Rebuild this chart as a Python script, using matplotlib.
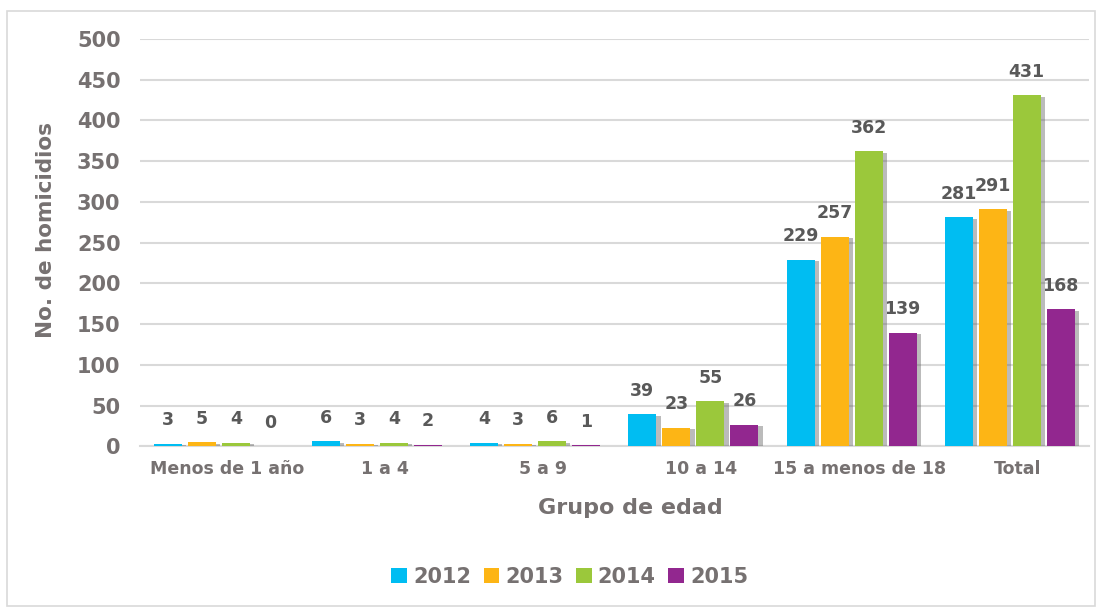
import numpy as np
import matplotlib
matplotlib.use("Agg")
import matplotlib.pyplot as plt
import matplotlib.patheffects as pe
from matplotlib.patches import Rectangle

grupos = ["Menos de 1 año", "1 a 4", "5 a 9", "10 a 14", "15 a menos de 18", "Total"]
anios = ["2012", "2013", "2014", "2015"]
v2012 = [3, 6, 4, 39, 229, 281]
v2013 = [5, 3, 3, 23, 257, 291]
v2014 = [4, 4, 6, 55, 362, 431]
v2015 = [0, 2, 1, 26, 139, 168]
colores = ["#00BDF2", "#FDB515", "#9BC83B", "#92278F"]

series = [v2012, v2013, v2014, v2015]
gris_txt = "#767171"
gris_lbl = "#595959"

plt.rcParams['font.family'] = ['DejaVu Sans']

fig = plt.figure(figsize=(11.02, 6.08), dpi=100)
ax = fig.add_axes([0.127, 0.266, 0.861, 0.670])

# marco del grafico
fig.patches.append(Rectangle((0.006, 0.004), 0.988, 0.978, transform=fig.transFigure,
                             fill=False, edgecolor="#d9d9d9", linewidth=1.2))

x = np.arange(len(grupos))
ancho = 0.177
paso = 0.215
sombra = [pe.SimplePatchShadow(offset=(3, -1), shadow_rgbFace="#555555", alpha=0.4), pe.Normal()]

for i, (vals, col, an) in enumerate(zip(series, colores, anios)):
    pos = x + (i - 1.5) * paso
    barras = ax.bar(pos, vals, width=ancho, color=col, label=an, zorder=3)
    for b in barras:
        b.set_path_effects(sombra)
    for p, v in zip(pos, vals):
        ax.annotate(str(v), (p, v), xytext=(0, 17), textcoords="offset points",
                    ha="center", va="center", fontsize=12.5, fontweight="bold",
                    color=gris_lbl, zorder=4)

ax.set_xlim(-0.5, len(grupos) - 0.5)
ax.set_ylim(0, 500)
ax.set_yticks(range(0, 501, 50))
ax.set_xticks(x + 0.05)
ax.set_xticklabels(grupos)
ax.tick_params(axis="y", length=0, pad=14, labelsize=15, labelcolor=gris_txt)
ax.tick_params(axis="x", length=0, pad=10, labelsize=12.5, labelcolor=gris_txt)
for t in ax.get_yticklabels() + ax.get_xticklabels():
    t.set_fontweight("bold")

ax.grid(axis="y", color="#d9d9d9", linewidth=1.5, zorder=0)
for s in ["top", "right", "left"]:
    ax.spines[s].set_visible(False)
ax.spines["bottom"].set_color("#d9d9d9")
ax.spines["bottom"].set_linewidth(1.5)

ax.set_ylabel("No. de homicidios", fontsize=15.5, fontweight="bold", color=gris_txt)
ax.yaxis.set_label_coords(-0.088, 0.53)
ax.set_xlabel("Grupo de edad", fontsize=16, fontweight="bold", color=gris_txt)
ax.xaxis.set_label_coords(0.517, -0.127)

leg = fig.legend(loc="center", bbox_to_anchor=(0.517, 0.051), ncol=4, frameon=False,
                 fontsize=15, handlelength=0.75, handleheight=0.75, handletextpad=0.3,
                 columnspacing=0.6)
for h in leg.legend_handles:
    h.set_path_effects([])
for t in leg.get_texts():
    t.set_color(gris_txt)
    t.set_fontweight("bold")

fig.savefig("out.png", dpi=100)
